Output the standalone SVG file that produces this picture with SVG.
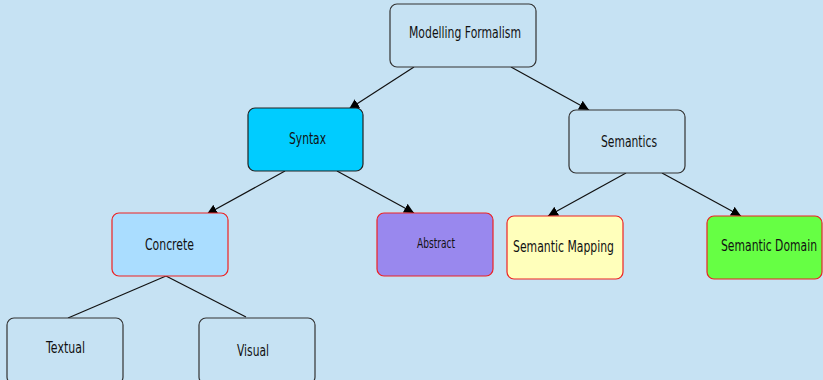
<svg xmlns="http://www.w3.org/2000/svg" width="823" height="380" viewBox="0 0 823 380">
  <style>
    .node rect { stroke-width: 1.2; }
    .plain rect { fill: #c6e2f3; stroke: #333333; }
    .red rect { stroke: #ee2222; }
    text { font-family: "DejaVu Sans", sans-serif; font-size: 16.5px; fill: #111111; text-anchor: middle; }
    .edges line { stroke: #111111; stroke-width: 1.2; }
  </style>
  <defs>
    <marker id="arrow" viewBox="0 0 10 10" refX="10" refY="5" markerWidth="10" markerHeight="10" markerUnits="userSpaceOnUse" orient="auto">
      <path d="M0,0 L10,5 L0,10 Z" fill="#000000"/>
    </marker>
  </defs>
  <rect x="0" y="0" width="823" height="380" fill="#c6e2f3"/>

  <g class="edges">
    <line x1="414" y1="67" x2="349" y2="109" marker-end="url(#arrow)"/>
    <line x1="511" y1="67" x2="589" y2="110" marker-end="url(#arrow)"/>
    <line x1="285" y1="171" x2="207" y2="214" marker-end="url(#arrow)"/>
    <line x1="337" y1="171" x2="414" y2="213" marker-end="url(#arrow)"/>
    <line x1="626" y1="173" x2="548" y2="216" marker-end="url(#arrow)"/>
    <line x1="662" y1="173" x2="741" y2="216" marker-end="url(#arrow)"/>
    <line x1="166" y1="276" x2="68" y2="318"/>
    <line x1="166" y1="276" x2="246" y2="317"/>
  </g>

  <g id="modelling-formalism" class="node plain">
    <rect x="390" y="4" width="146" height="63" rx="7"/>
    <text x="465" y="38" textLength="112" lengthAdjust="spacingAndGlyphs">Modelling Formalism</text>
  </g>
  <g id="syntax" class="node">
    <rect x="248" y="108" width="115" height="63" rx="7" fill="#00ccff" stroke="#222222"/>
    <text x="307.5" y="144" textLength="37" lengthAdjust="spacingAndGlyphs">Syntax</text>
  </g>
  <g id="semantics" class="node plain">
    <rect x="569" y="110" width="116" height="63" rx="7"/>
    <text x="629" y="147" textLength="56" lengthAdjust="spacingAndGlyphs">Semantics</text>
  </g>
  <g id="concrete" class="node red">
    <rect x="112" y="213" width="116" height="63" rx="7" fill="#aaddff"/>
    <text x="169.5" y="250" textLength="49" lengthAdjust="spacingAndGlyphs">Concrete</text>
  </g>
  <g id="abstract" class="node red">
    <rect x="377" y="213" width="116" height="63" rx="7" fill="#9988ee"/>
    <text x="436" y="248" style="font-size:14px" textLength="38" lengthAdjust="spacingAndGlyphs">Abstract</text>
  </g>
  <g id="semantic-mapping" class="node red">
    <rect x="507" y="216" width="116" height="63" rx="7" fill="#ffffbb"/>
    <text x="563.5" y="252" textLength="101" lengthAdjust="spacingAndGlyphs">Semantic Mapping</text>
  </g>
  <g id="semantic-domain" class="node red">
    <rect x="707" y="216" width="115" height="63" rx="7" fill="#66ff44"/>
    <text x="769" y="251" textLength="96" lengthAdjust="spacingAndGlyphs">Semantic Domain</text>
  </g>
  <g id="textual" class="node plain">
    <rect x="7" y="318" width="116" height="66" rx="7"/>
    <text x="65.5" y="353" textLength="39" lengthAdjust="spacingAndGlyphs">Textual</text>
  </g>
  <g id="visual" class="node plain">
    <rect x="199" y="318" width="116" height="66" rx="7"/>
    <text x="253" y="356" textLength="32" lengthAdjust="spacingAndGlyphs">Visual</text>
  </g>
</svg>
